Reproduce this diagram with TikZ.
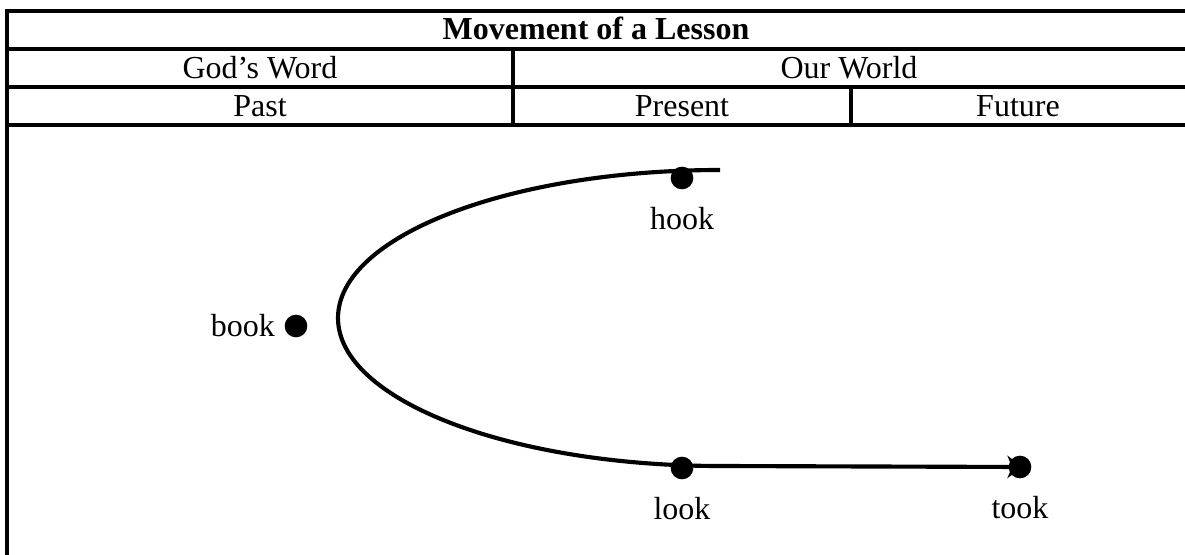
\documentclass[tikz,border=0pt]{standalone}
\usepackage{fontspec}
\setmainfont{Liberation Serif}
\usetikzlibrary{positioning,arrows.meta}
\tikzset{
    lab/.style={
        font=\fontsize{24}{28}\selectfont, inner sep=0pt
    },
    rule/.style={line width=2.5pt, line cap=rect},
    dot/.style={circle, fill=black, inner sep=0pt, minimum size=17pt},
    path/.style={line width=3.1pt}
}

\begin{document}
\begin{tikzpicture}[x=0.75pt,y=-0.75pt,line join=round]

    \useasboundingbox (0,0) rectangle (1185,555);

% --- table ---
    \foreach \y in {11,49,87,125}
        \draw[rule] (7,\y) -- (1186,\y);
    \draw[rule] (7,11) -- (7,553);
    \draw[rule] (513,49) -- (513,125);
    \draw[rule] (851,87) -- (851,125);

% headings
    \node[lab, anchor=base, font=\fontsize{24}{28}\selectfont\bfseries] (title) at (596,40) {Movement of a Lesson};
    \node[lab, anchor=base] (word)    at (260,79)  {God’s Word};
    \node[lab, anchor=base] (world)   at (849,79)  {Our World};
    \node[lab, anchor=base] (past)    at (260,117) {Past};
    \node[lab, anchor=base] (present) at (682,117) {Present};
    \node[lab, anchor=base] (future)  at (1018,117) {Future};

% --- the movement ---
    \coordinate (bendtop) at (720,170);
    \coordinate (bendbot) at (720,466);
    \draw[path] (bendtop) arc[start angle=90, end angle=270, x radius=286.5pt, y radius=111pt];
    \draw[path, -{Stealth[length=11pt,width=17pt]}] (bendbot) -- (1022,467);

% dots
    \node[dot] (hookdot) at (682,178) {};
    \node[dot] (lookdot) at (682,468) {};
    \node[dot] (bookdot) at (296,326) {};
    \node[dot] (tookdot) at (1020,467) {};

% labels
    \node[lab, below=13pt of hookdot] (hook) {hook};
    \node[lab, below=13pt of lookdot] (look) {look};
    \node[lab, below=13pt of tookdot] (took) {took};
    \node[lab, left=7pt of bookdot]   (book) {book};

\end{tikzpicture}
\end{document}
